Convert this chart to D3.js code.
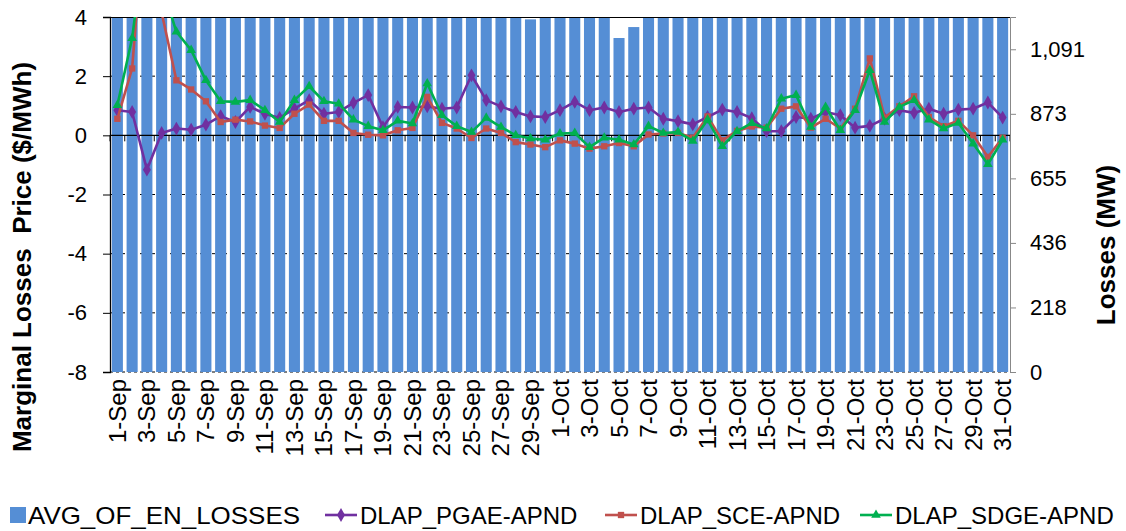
<!DOCTYPE html>
<html>
<head>
<meta charset="utf-8">
<script src="https://cdn.jsdelivr.net/npm/d3@7"></script>
<style>
  body { margin: 0; background: #fff; }
  svg { font-family: "Liberation Sans", Arial, sans-serif; }
</style>
</head>
<body>
<div id="chart"></div>
<script>
// categories: one per day, 1-Sep to 31-Oct
const days = [
  "1-Sep","2-Sep","3-Sep","4-Sep","5-Sep","6-Sep","7-Sep","8-Sep","9-Sep","10-Sep",
  "11-Sep","12-Sep","13-Sep","14-Sep","15-Sep","16-Sep","17-Sep","18-Sep","19-Sep","20-Sep",
  "21-Sep","22-Sep","23-Sep","24-Sep","25-Sep","26-Sep","27-Sep","28-Sep","29-Sep","30-Sep",
  "1-Oct","2-Oct","3-Oct","4-Oct","5-Oct","6-Oct","7-Oct","8-Oct","9-Oct","10-Oct",
  "11-Oct","12-Oct","13-Oct","14-Oct","15-Oct","16-Oct","17-Oct","18-Oct","19-Oct","20-Oct",
  "21-Oct","22-Oct","23-Oct","24-Oct","25-Oct","26-Oct","27-Oct","28-Oct","29-Oct","30-Oct",
  "31-Oct"
];

// AVG_OF_EN_LOSSES (MW), right axis; most days run past the top of the axis
const losses = [
  1265,1270,1280,1275,1290,1285,1270,1260,1255,1262,
  1258,1250,1266,1272,1268,1261,1255,1249,1246,1252,
  1260,1270,1258,1254,1266,1259,1248,1242,1192,1240,
  1245,1238,1236,1244,1129,1166,1236,1241,1246,1250,
  1255,1249,1244,1240,1246,1252,1258,1250,1247,1243,
  1249,1256,1262,1254,1250,1246,1241,1244,1250,1256,
  1248
];

// marginal losses price ($/MWh), left axis
const pgae = [
  0.85,0.79,-1.16,0.08,0.23,0.19,0.36,0.65,0.45,0.96,
  0.73,0.59,0.90,1.19,0.73,0.79,1.10,1.36,0.28,0.96,
  0.94,0.98,0.90,0.94,2.03,1.19,0.98,0.79,0.64,0.62,
  0.85,1.13,0.85,0.94,0.79,0.90,0.94,0.56,0.48,0.37,
  0.62,0.87,0.79,0.58,0.14,0.14,0.62,0.56,0.79,0.68,
  0.26,0.32,0.56,0.85,0.76,0.90,0.73,0.87,0.90,1.11,
  0.60
];
const sce = [
  0.56,2.26,8.50,4.15,1.86,1.55,1.15,0.45,0.53,0.47,
  0.33,0.25,0.73,1.04,0.49,0.49,0.08,0.02,0.00,0.17,
  0.25,1.30,0.42,0.23,-0.09,0.23,0.08,-0.23,-0.31,-0.40,
  -0.17,-0.28,-0.45,-0.37,-0.26,-0.37,0.03,0.06,0.08,-0.08,
  0.64,-0.17,0.15,0.30,0.26,0.90,0.98,0.26,0.56,0.23,
  0.90,2.60,0.60,0.98,1.32,0.62,0.31,0.49,0.00,-0.73,
  -0.08
];
const sdge = [
  1.02,3.28,7.20,5.10,3.50,2.88,1.86,1.15,1.13,1.19,
  0.85,0.45,1.19,1.66,1.15,1.07,0.53,0.31,0.17,0.49,
  0.40,1.75,0.68,0.31,0.11,0.59,0.28,0.00,-0.11,-0.15,
  0.06,0.08,-0.40,-0.08,-0.15,-0.31,0.31,0.08,0.11,-0.19,
  0.53,-0.37,0.14,0.41,0.23,1.24,1.36,0.28,0.96,0.17,
  0.85,2.20,0.45,0.96,1.19,0.53,0.23,0.42,-0.28,-0.98,
  -0.15
];

const leftTicks = [-8,-6,-4,-2,0,2,4];
const rightTicks = [0,218.18,436.36,654.55,872.73,1090.91];
const rightTickLabels = ["0","218","436","655","873","1,091"];

const seriesInfo = [
  {name: "DLAP_PGAE-APND", values: pgae, color: "#7030A0", symbol: d3.symbolDiamond, size: 55},
  {name: "DLAP_SCE-APND", values: sce, color: "#C0504D", symbol: d3.symbolSquare, size: 40},
  {name: "DLAP_SDGE-APND", values: sdge, color: "#00B050", symbol: d3.symbolTriangle, size: 40}
];

const width = 1126, height = 531;
const plotL = 110, plotR = 1010, plotT = 17, plotB = 372;

const svg = d3.select("#chart").append("svg")
  .attr("width", width)
  .attr("height", height);

const x = d3.scaleBand()
  .domain(days)
  .range([plotL, plotR])
  .paddingInner(0.25)
  .paddingOuter(0.125);
const xc = d => x(d) + x.bandwidth() / 2;

const yL = d3.scaleLinear().domain([-8, 4]).range([plotB, plotT]);
const yR = d3.scaleLinear().domain([0, 1200]).range([plotB, plotT]);

svg.append("clipPath").attr("id", "plot")
  .append("rect")
  .attr("x", plotL).attr("y", plotT)
  .attr("width", plotR - plotL).attr("height", plotB - plotT);

// dashed gridlines behind the bars
svg.append("g")
  .selectAll("line")
  .data(leftTicks.filter(t => t !== 0 && t !== 4))
  .join("line")
  .attr("x1", plotL).attr("x2", plotR)
  .attr("y1", d => yL(d)).attr("y2", d => yL(d))
  .attr("stroke", "#000")
  .attr("stroke-width", 1)
  .attr("stroke-dasharray", "3,3");

// bars
svg.append("g")
  .attr("clip-path", "url(#plot)")
  .selectAll("rect")
  .data(losses)
  .join("rect")
  .attr("x", (d, i) => x(days[i]))
  .attr("width", x.bandwidth())
  .attr("y", d => yR(d))
  .attr("height", d => yR(0) - yR(d))
  .attr("fill", "#558ED5");

// top border and zero line
svg.append("line")
  .attr("x1", plotL).attr("x2", plotR)
  .attr("y1", plotT + 0.5).attr("y2", plotT + 0.5)
  .attr("stroke", "#000");

const y0 = yL(0);
svg.append("line")
  .attr("x1", plotL).attr("x2", plotR)
  .attr("y1", y0).attr("y2", y0)
  .attr("stroke", "#000")
  .attr("stroke-width", 1.3);
svg.append("g")
  .selectAll("line")
  .data(d3.range(days.length + 1))
  .join("line")
  .attr("x1", k => plotL + k * x.step())
  .attr("x2", k => plotL + k * x.step())
  .attr("y1", y0).attr("y2", y0 + 6)
  .attr("stroke", "#000");

// series lines
const line = d3.line()
  .x((d, i) => xc(days[i]))
  .y(d => yL(d));

const lines = svg.append("g").attr("clip-path", "url(#plot)");
seriesInfo.forEach(s => {
  lines.append("path")
    .attr("d", line(s.values))
    .attr("fill", "none")
    .attr("stroke", s.color)
    .attr("stroke-width", 2.6)
    .attr("stroke-linejoin", "round");
  lines.append("g")
    .selectAll("path")
    .data(s.values)
    .join("path")
    .attr("transform", (d, i) => `translate(${xc(days[i])},${yL(d)})`)
    .attr("d", d3.symbol().type(s.symbol).size(s.size))
    .attr("fill", s.color);
});

// left axis
const axL = svg.append("g")
  .attr("transform", `translate(${plotL},0)`)
  .call(d3.axisLeft(yL).tickValues(leftTicks).tickSize(7).tickPadding(16).tickFormat(d => String(d)));
axL.select(".domain").attr("stroke", "#000").attr("stroke-width", 1.3);
axL.selectAll("text").attr("font-size", 22).attr("fill", "#000")
  .style("font-family", "Liberation Sans, Arial, sans-serif");

// right axis
const axR = svg.append("g")
  .attr("transform", `translate(${plotR},0)`)
  .call(d3.axisRight(yR).tickValues(rightTicks).tickSize(6).tickPadding(14)
    .tickFormat((d, i) => rightTickLabels[i]));
axR.select(".domain").attr("stroke", "#888");
axR.selectAll(".tick line").attr("stroke", "#888");
axR.selectAll("text").attr("font-size", 22).attr("fill", "#000")
  .style("font-family", "Liberation Sans, Arial, sans-serif");

// x labels, every other day
svg.append("g")
  .selectAll("text")
  .data(days.filter((d, i) => i % 2 === 0))
  .join("text")
  .attr("transform", d => `translate(${xc(d) + 8.5},${plotB + 7}) rotate(-90)`)
  .attr("text-anchor", "end")
  .attr("font-size", 24)
  .text(d => d);

// axis titles
svg.append("text")
  .attr("transform", "translate(31,257) rotate(-90)")
  .attr("text-anchor", "middle")
  .attr("font-size", 26)
  .attr("font-weight", "bold")
  .attr("xml:space", "preserve")
  .text("Marginal Losses  Price ($/MWh)");

svg.append("text")
  .attr("transform", "translate(1115,245) rotate(-90)")
  .attr("text-anchor", "middle")
  .attr("font-size", 26)
  .attr("font-weight", "bold")
  .text("Losses (MW)");

// legend
const legY = 515;
const leg = svg.append("g");
leg.append("rect")
  .attr("x", 10).attr("y", legY - 8).attr("width", 16).attr("height", 16)
  .attr("fill", "#558ED5");
leg.append("text")
  .attr("x", 28).attr("y", legY + 8.5)
  .attr("font-size", 24)
  .attr("textLength", 272)
  .attr("lengthAdjust", "spacingAndGlyphs")
  .text("AVG_OF_EN_LOSSES");

const legX = [325, 605, 860];
seriesInfo.forEach((s, k) => {
  const g = leg.append("g").attr("transform", `translate(${legX[k]},${legY})`);
  g.append("line").attr("x1", 0).attr("x2", 32)
    .attr("stroke", s.color).attr("stroke-width", 2.6);
  g.append("path")
    .attr("transform", "translate(16,0)")
    .attr("d", d3.symbol().type(s.symbol).size(s.size))
    .attr("fill", s.color);
  g.append("text")
    .attr("x", 35).attr("y", 8.5)
    .attr("font-size", 24)
    .text(s.name);
});
</script>
</body>
</html>
